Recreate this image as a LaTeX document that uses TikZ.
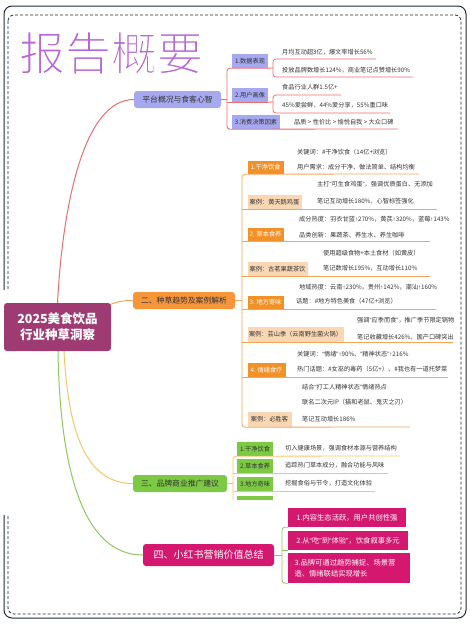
\documentclass[tikz,border=0pt]{standalone}
\usepackage{fontspec}
\setmainfont{Noto Sans CJK SC}
\newfontfamily\latf{Liberation Sans}
\newcommand\myql{{\latf “}}
\newcommand\myqr{{\latf ”}}
\newcommand\myup{{\latf ↑}}
\usetikzlibrary{backgrounds}
\definecolor{framec}{HTML}{1F2B3A}
\definecolor{titlec}{HTML}{B867D6}
\definecolor{rootc}{HTML}{9E3B73}
\definecolor{lavc}{HTML}{A6A9F0}
\definecolor{orgc}{HTML}{F7953B}
\definecolor{orgsub}{HTML}{F39129}
\definecolor{peachc}{HTML}{FAD7B4}
\definecolor{grnc}{HTML}{7CC944}
\definecolor{magc}{HTML}{D5186F}
\definecolor{redl}{HTML}{EE6B6B}
\definecolor{orgl}{HTML}{F4A55A}
\definecolor{yell}{HTML}{F6C46A}
\definecolor{grnl}{HTML}{8DC85E}
\definecolor{txt}{HTML}{333333}
\begin{document}
\begin{tikzpicture}[x=1pt,y=-1pt,
  l1box/.style={rounded corners=3pt, inner sep=0pt, text=txt, font=\fontsize{7.8}{9}\selectfont},
  subbox/.style={inner sep=0pt, text=txt, font=\fontsize{6.2}{7}\selectfont},
  leaf/.style={anchor=west, inner sep=0pt, text=txt, font=\fontsize{6.2}{7}\selectfont},
  redline/.style={draw=redl, line width=0.8pt},
  orgline/.style={draw=orgl, line width=0.8pt},
  yelline/.style={draw=yell, line width=0.8pt},
  grnline/.style={draw=grnl, line width=0.8pt},
  curve/.style={line width=1pt}
]
\useasboundingbox (0,0) rectangle (470,627);

% title (thinned strokes)
\node[text=titlec, font=\fontsize{46}{50}\selectfont, inner sep=0pt] (title) at (111,53)
  {\special{pdf:literal direct 2 Tr 1.5 w 1 1 1 RG}报告概要\special{pdf:literal direct 0 Tr}};

% root
\node[fill=rootc, rounded corners=3pt, minimum width=107pt, minimum height=48pt, inner sep=0pt,
  text=white, align=center, font=\fontsize{12.5}{16}\selectfont\bfseries] (root) at (57.5,327) {2025美食饮品\\行业种草洞察};

% level 1
\node[l1box, fill=lavc, minimum width=87pt, minimum height=17pt] (n1) at (177.5,99.5) {平台概况与食客心智};
\node[l1box, fill=orgc, minimum width=102pt, minimum height=17pt] (n2) at (184,300.5) {二、种草趋势及案例解析};
\node[l1box, fill=grnc, minimum width=94pt, minimum height=17pt] (n3) at (180,483.5) {三、品牌商业推广建议};
\node[l1box, fill=magc, minimum width=131pt, minimum height=22pt, text=white, font=\fontsize{10}{12}\selectfont] (n4) at (208.5,555) {四、小红书营销价值总结};

% branch 1
\node[subbox, fill=lavc, minimum width=36pt, minimum height=14pt] (s11) at (250,61) {1.数据表现};
\node[subbox, fill=lavc, minimum width=36pt, minimum height=14pt] (s12) at (250,95) {2.用户画像};
\node[subbox, fill=lavc, minimum width=48pt, minimum height=14pt] (s13) at (256,122) {3.消费决策因素};
\node[leaf] (t111) at (282,52) {月均互动超3亿，爆文率增长56\%};
\node[leaf] (t112) at (282,70) {投放品牌数增长124\%，商业笔记点赞增长90\%};
\node[leaf] (t121) at (282,87.5) {食品行业人群1.5亿+};
\node[leaf] (t122) at (282,105.5) {45\%爱尝鲜，44\%爱分享，55\%重口味};
\node[leaf] (t131) at (294,122.5) {品质 > 性价比 > 愉悦自我 > 大众口碑};

% branch 2
\node[subbox, fill=orgsub, text=white, minimum width=36pt, minimum height=13pt] (s21) at (265.5,167.5) {1.干净饮食};
\node[subbox, fill=peachc, minimum width=54pt, minimum height=14pt] (s22) at (274.5,202) {案例：黄天鹅鸡蛋};
\node[subbox, fill=orgsub, text=white, minimum width=36pt, minimum height=13pt] (s23) at (265.5,234.5) {2. 草本食养};
\node[subbox, fill=peachc, minimum width=60pt, minimum height=14pt] (s24) at (277.5,269) {案例：古茗果蔬茶饮};
\node[subbox, fill=orgsub, text=white, minimum width=36pt, minimum height=13pt] (s25) at (265.5,302.5) {3. 地方奇味};
\node[subbox, fill=peachc, minimum width=96pt, minimum height=15pt] (s26) at (295.5,334.5) {案例：芸山季（云南野生菌火锅）};
\node[subbox, fill=orgsub, text=white, minimum width=38pt, minimum height=14pt] (s27) at (266.5,370) {4. 情绪食疗};
\node[subbox, fill=peachc, minimum width=44pt, minimum height=15pt] (s28) at (269.5,419.5) {案例：必胜客};

\node[leaf] (t211) at (297,152) {关键词：\#干净饮食（14亿+浏览）};
\node[leaf] (t212) at (297,167) {用户需求：成分干净、做法简单、结构均衡};
\node[leaf] (t221) at (317,184) {主打\myql 可生食鸡蛋\myqr，强调优质蛋白、无添加};
\node[leaf] (t222) at (317,201) {笔记互动增长180\%，心智标签强化};
\node[leaf] (t231) at (299,219) {成分热度：羽衣甘蓝\myup 270\%，黄芪\myup 320\%，蓝莓\myup 143\%};
\node[leaf] (t232) at (299,235) {品类创新：果蔬茶、养生水、养生咖啡};
\node[leaf] (t241) at (323,253) {使用超级食物+本土食材（如黄皮）};
\node[leaf] (t242) at (323,268) {笔记数增长195\%，互动增长110\%};
\node[leaf] (t251) at (299,287) {地域热度：云南\myup 230\%，贵州\myup 142\%，潮汕\myup 160\%};
\node[leaf] (t252) at (296,301) {话题：\#地方特色美食（47亿+浏览）};
\node[leaf] (t261) at (357,320) {强调\myql 应季而食\myqr，推广季节限定锅物};
\node[leaf] (t262) at (357,337) {笔记收藏增长426\%，国产口碑突出};
\node[leaf] (t271) at (297,354) {关键词：\myql 情绪\myqr\myup 90\%、\myql 精神状态\myqr\myup 216\%};
\node[leaf] (t272) at (297,369) {热门话题：\#女巫的毒药（5亿+）、\#我也有一道托梦菜};
\node[leaf] (t281) at (302,387) {结合\myql 打工人精神状态\myqr 情绪热点};
\node[leaf] (t282) at (302,402) {联名二次元IP（猫和老鼠、鬼灭之刃）};
\node[leaf] (t283) at (302,419) {笔记互动增长186\%};

% branch 3
\node[subbox, fill=grnc, minimum width=36pt, minimum height=14pt] (s31) at (255,449) {1.干净饮食};
\node[subbox, fill=grnc, minimum width=36pt, minimum height=14pt] (s32) at (255,466) {2.草本食养};
\node[subbox, fill=grnc, minimum width=36pt, minimum height=14pt] (s33) at (255,484) {3.地方奇味};
\node[leaf] (t311) at (285,448) {切入健康场景，强调食材本源与营养结构};
\node[leaf] (t321) at (285,465) {追踪热门草本成分，融合功能与风味};
\node[leaf] (t331) at (285,483) {挖掘食俗与节令，打造文化体验};

% branch 4
\node[subbox, fill=magc, text=white, minimum width=118pt, minimum height=19pt, font=\fontsize{7.3}{9}\selectfont] (s41) at (347,517.5) {1.内容生态活跃，用户共创性强};
\node[subbox, fill=magc, text=white, minimum width=120pt, minimum height=19pt, font=\fontsize{7.3}{9}\selectfont] (s42) at (348,540.5) {2.从\myql 吃\myqr 到\myql 体验\myqr，饮食叙事多元};
\node[subbox, fill=magc, text=white, minimum width=122pt, minimum height=30pt, font=\fontsize{7.3}{11}\selectfont, align=left] (s43) at (349,568) {3.品牌可通过趋势捕捉、场景营\\造、情绪联结实现增长\hspace*{36pt}};

\coordinate (b1) at (227,99.5);
\coordinate (b2) at (242,300.5);
\coordinate (b3) at (233,483.5);
\coordinate (b4) at (282,555);

\begin{pgfonlayer}{background}
  % frame
  \draw[framec, line width=1pt, rounded corners=8pt] (4,6) rectangle (466,618);
  \draw[framec, line width=0.8pt, dash pattern=on 3pt off 2pt, rounded corners=6pt] (8,15) rectangle (461,614);
  \fill[white] (1,290) rectangle (12,515);
  % main curves
  \draw[redl, curve] (root.center) -- (root.north) .. controls (63,200) and (85,99.5) .. (n1.west);
  \draw[orgl, curve] (root.center) -- (100,310) .. controls (112,303) and (118,300.5) .. (n2.west);
  \draw[yell, curve] (root.center) -- (64,351) .. controls (68,430) and (85,483.5) .. (n3.west);
  \draw[grnl, curve] (root.center) -- (58,351) .. controls (60,475) and (85,555) .. (n4.west);
  % partial fourth box of branch 3
  \fill[grnc] (237,496) rectangle (273,500);
\end{pgfonlayer}

% branch 1 connectors
\draw[redline] (n1.east) -- (b1);
\draw[redline, rounded corners=3pt] (s11.south east) -- (s11.south -| b1) -- (s13.south -| b1) -- (398,129);
\draw[redline] (s12.south -| b1) -- (s12.south east);
\draw[redline] (s11.south east) -- (273,68);
\draw[redline, rounded corners=3pt] (376,59) -- (273,59) -- (273,77) -- (413,77);
\draw[redline] (s12.south east) -- (273,102);
\draw[redline, rounded corners=3pt] (341,95) -- (273,95) -- (273,113) -- (390,113);

% branch 2 connectors
\draw[orgline] (n2.east) -- (b2);
\draw[orgline, rounded corners=3pt] (419,174) -- (s21.south -| b2) -- (s28.south -| b2) -- (410,427);
\draw[orgline] (s22.south -| b2) -- ++(195,0);
\draw[orgline] (s23.south -| b2) -- ++(188,0);
\draw[orgline] (s24.south -| b2) -- ++(188,0);
\draw[orgline] (s25.south -| b2) -- ++(194,0);
\draw[orgline] (s26.south -| b2) -- ++(211,0);
\draw[orgline] (s27.south -| b2) -- ++(206,0);

% branch 3 connectors
\draw[yelline] (n3.east) -- (b3);
\draw[yelline, rounded corners=3pt] (400,456) -- (s31.south -| b3) -- (233,500);
\draw[yelline] (s32.south -| b3) -- ++(155,0);
\draw[yelline] (s33.south -| b3) -- ++(142,0);

% branch 4 connectors
\draw[grnline] (n4.east) -- (b4);
\draw[grnline, rounded corners=3pt] (s41.south west) -- (s41.south -| b4) -- (s43.south -| b4) -- (s43.south west);
\draw[grnline] (s42.south -| b4) -- (s42.south west);
\end{tikzpicture}
\end{document}
